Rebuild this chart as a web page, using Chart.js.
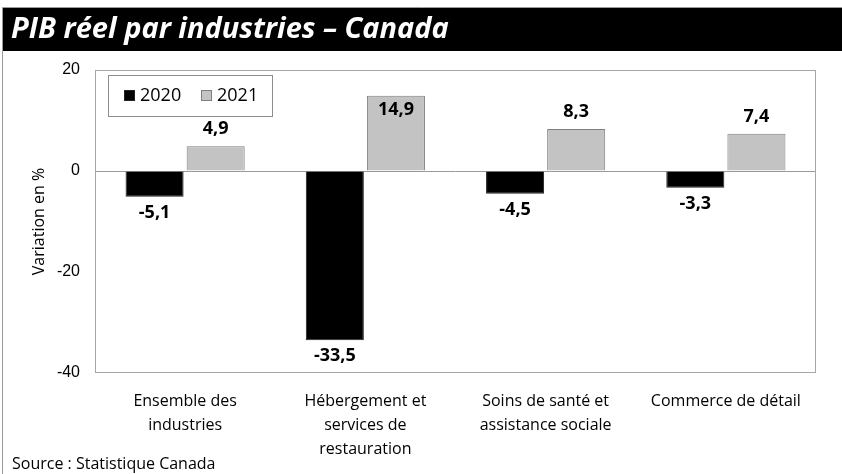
<!DOCTYPE html>
<html>
<head>
<meta charset="utf-8">
<script src="https://cdn.jsdelivr.net/npm/chart.js@4/dist/chart.umd.min.js"></script>
<style>
  html, body { margin: 0; padding: 0; background: #fff; }
  #wrap { position: relative; width: 842px; height: 474px; }
  canvas { display: block; }
</style>
</head>
<body>
<div id="wrap"><canvas id="c" width="842" height="474"></canvas></div>
<script>
const titleText = "PIB réel par industries – Canada";
const sourceText = "Source : Statistique Canada";
const yAxisTitle = "Variation en %";
const categories = [
  ["Ensemble des", "industries"],
  ["Hébergement et", "services de", "restauration"],
  ["Soins de santé et", "assistance sociale"],
  ["Commerce de détail"]
];
const seriesNames = ["2020", "2021"];
const values2020 = [-5.1, -33.5, -4.5, -3.3];
const values2021 = [4.9, 14.9, 8.3, 7.4];
const yTicks = [20, 0, -20, -40];

const fmt = v => v.toFixed(1).replace('.', ',');

const decorPlugin = {
  id: 'decor',
  beforeDraw(chart) {
    const ctx = chart.ctx;
    ctx.save();
    ctx.fillStyle = '#fff';
    ctx.fillRect(0, 0, chart.width, chart.height);
    // outer frame
    ctx.strokeStyle = '#9a9a9a';
    ctx.lineWidth = 1;
    ctx.beginPath();
    ctx.moveTo(2.5, chart.height);
    ctx.lineTo(2.5, 7.5);
    ctx.lineTo(chart.width, 7.5);
    ctx.stroke();
    // title bar
    ctx.fillStyle = '#000';
    ctx.fillRect(3, 8, chart.width - 3, 43);
    ctx.fillStyle = '#fff';
    ctx.font = 'italic bold 29px "Open Sans"';
    ctx.textBaseline = 'middle';
    ctx.textAlign = 'left';
    ctx.fillText(titleText, 11, 30);
    // source
    ctx.fillStyle = '#000';
    ctx.font = '16px "Open Sans"';
    ctx.fillText(sourceText, 12, 464);
    ctx.restore();
  },
  afterDatasetsDraw(chart) {
    const ctx = chart.ctx;
    const a = chart.chartArea;
    ctx.save();
    // plot border
    ctx.strokeStyle = '#a6a6a6';
    ctx.lineWidth = 1;
    ctx.strokeRect(Math.round(a.left) + 0.5, Math.round(a.top) + 0.5,
                   Math.round(a.right - a.left) - 1, Math.round(a.bottom - a.top) - 1);
    // data labels
    ctx.fillStyle = '#000';
    ctx.font = 'bold 18px "Open Sans"';
    ctx.textAlign = 'center';
    ctx.textBaseline = 'middle';
    chart.data.datasets.forEach((ds, di) => {
      const meta = chart.getDatasetMeta(di);
      meta.data.forEach((bar, i) => {
        const v = ds.data[i];
        let y;
        if (v >= 0) {
          y = bar.y - 17;
          if (y - 10 < a.top + 8) y = bar.y + 14;
        } else {
          y = bar.y + 16;
        }
        ctx.fillText(fmt(v), bar.x, y);
      });
    });
    // legend
    const lx = 108, ly = 75, lw = 164, lh = 41;
    ctx.fillStyle = '#fff';
    ctx.fillRect(lx, ly, lw, lh);
    ctx.strokeStyle = '#8c8c8c';
    ctx.strokeRect(lx + 0.5, ly + 0.5, lw, lh);
    ctx.font = '18px "Open Sans"';
    ctx.textAlign = 'left';
    const items = [{x: 124, tx: 140}, {x: 201, tx: 217}];
    chart.data.datasets.forEach((ds, di) => {
      const it = items[di];
      ctx.fillStyle = ds.backgroundColor;
      ctx.fillRect(it.x, 90, 11, 11);
      ctx.strokeStyle = ds.borderColor;
      ctx.strokeRect(it.x + 0.5, 90.5, 10, 10);
      ctx.fillStyle = '#000';
      ctx.fillText(ds.label, it.tx, 96);
    });
    ctx.restore();
  }
};

new Chart(document.getElementById('c'), {
  type: 'bar',
  data: {
    labels: categories,
    datasets: [
      { label: seriesNames[0], data: values2020, backgroundColor: '#000000', borderColor: '#222222', borderWidth: 1 },
      { label: seriesNames[1], data: values2021, backgroundColor: '#c3c3c3', borderColor: '#7f7f7f', borderWidth: 1 }
    ]
  },
  options: {
    responsive: false,
    animation: false,
    devicePixelRatio: 1,
    layout: { padding: { left: 3, top: 70, right: 26, bottom: 0 } },
    datasets: { bar: { categoryPercentage: 0.678, barPercentage: 0.95 } },
    plugins: {
      legend: { display: false },
      title: { display: false },
      tooltip: { enabled: false }
    },
    scales: {
      x: {
        grid: { display: false, drawTicks: false },
        border: { display: false },
        ticks: {
          color: '#000',
          font: { family: '"Open Sans"', size: 16, lineHeight: 1.5 },
          padding: 16,
          maxRotation: 0,
          autoSkip: false
        },
        afterFit(s) { s.height = 101; }
      },
      y: {
        min: -40, max: 20,
        afterBuildTicks(s) { s.ticks = yTicks.map(v => ({ value: v })); },
        grid: {
          drawTicks: false,
          color: c => (c.tick && c.tick.value === 0) ? '#9a9a9a' : 'rgba(0,0,0,0)'
        },
        border: { display: false },
        ticks: {
          color: '#000',
          font: { family: '"Liberation Sans"', size: 16 },
          padding: 15
        },
        title: {
          display: true,
          text: yAxisTitle,
          color: '#000',
          font: { family: '"Open Sans"', size: 16 },
          padding: { top: 27, bottom: 0 }
        },
        afterFit(s) { s.width = 92; }
      }
    }
  },
  plugins: [decorPlugin]
});
</script>
</body>
</html>
